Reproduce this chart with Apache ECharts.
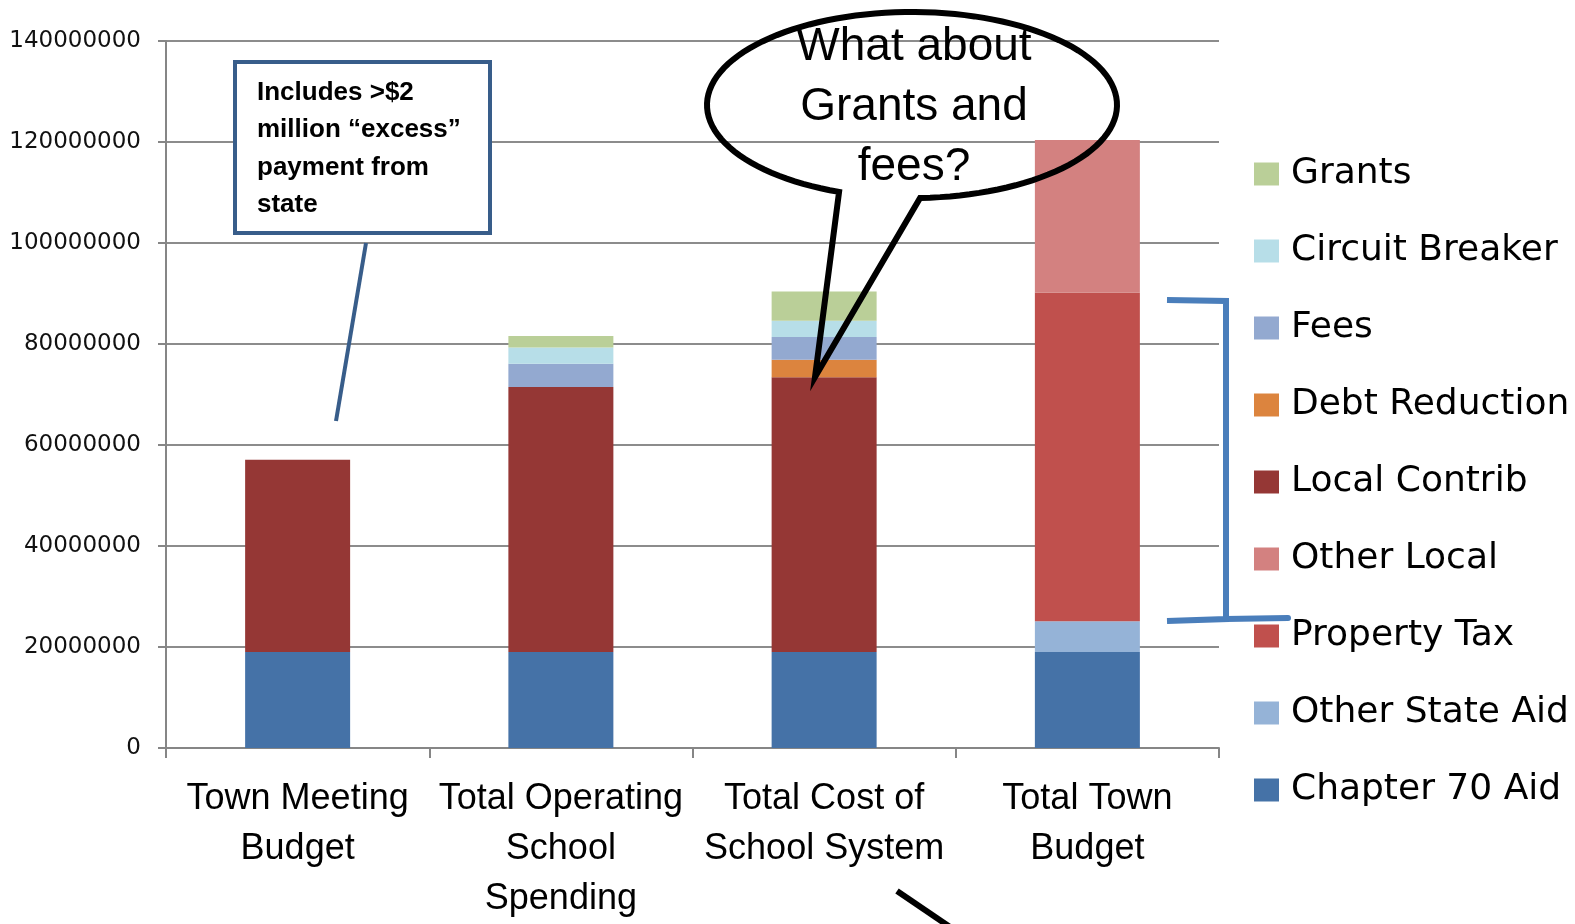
<!DOCTYPE html>
<html>
<head>
<meta charset="utf-8">
<script src="https://cdn.jsdelivr.net/npm/echarts@6/dist/echarts.min.js"></script>
<style>
html,body{margin:0;padding:0;background:#fff;overflow:hidden;}
#chart{width:1575px;height:924px;}
</style>
</head>
<body>
<div id="chart"></div>
<script>
const categories = ['Town Meeting\nBudget', 'Total Operating\nSchool\nSpending', 'Total Cost of\nSchool System', 'Total Town\nBudget'];
const yTicks = [0, 20000000, 40000000, 60000000, 80000000, 100000000, 120000000, 140000000];

const chapter70Aid    = [19000000, 19000000, 19000000, 19000000];
const otherStateAid   = [0, 0, 0, 6100000];
const propertyTax     = [0, 0, 0, 65100000];
const otherLocal      = [0, 0, 0, 30200000];
const localContrib    = [38100000, 52500000, 54400000, 0];
const debtReduction   = [0, 0, 3500000, 0];
const fees            = [0, 4600000, 4500000, 0];
const circuitBreaker  = [0, 3200000, 3200000, 0];
const grants          = [0, 2300000, 5800000, 0];

const seriesDefs = [
  ['Chapter 70 Aid', chapter70Aid, '#4572A7'],
  ['Other State Aid', otherStateAid, '#95B3D7'],
  ['Property Tax', propertyTax, '#C0504D'],
  ['Other Local', otherLocal, '#D38180'],
  ['Local Contrib', localContrib, '#953735'],
  ['Debt Reduction', debtReduction, '#DC843E'],
  ['Fees', fees, '#93A9D0'],
  ['Circuit Breaker', circuitBreaker, '#B7DEE8'],
  ['Grants', grants, '#BACF98']
];

const chart = echarts.init(document.getElementById('chart'));

// speech bubble outline (annotation graphic)
const bcx = 912, bcy = 105, brx = 205, bry = 93;
const bubblePts = [];
const t0 = Math.atan2((197 - bcy) / bry, (920 - bcx) / brx);
const t1 = Math.atan2((192 - bcy) / bry, (839 - bcx) / brx) - 2 * Math.PI;
const N = 120;
for (let i = 0; i <= N; i++) {
  const t = t0 + (t1 - t0) * i / N;
  bubblePts.push([bcx + brx * Math.cos(t), bcy + bry * Math.sin(t)]);
}
bubblePts.push([815, 377]);

const option = {
  animation: false,
  backgroundColor: '#fff',
  grid: { left: 166, right: 356, top: 41, bottom: 169, containLabel: false },
  legend: {
    orient: 'vertical',
    left: 1249,
    top: 149,
    icon: 'rect',
    itemWidth: 25,
    itemHeight: 23,
    itemGap: 37,
    textStyle: { fontFamily: 'DejaVu Sans', fontSize: 36, color: '#000', lineHeight: 40, padding: [0, 0, 0, 7] },
    data: seriesDefs.map(d => d[0]).reverse()
  },
  xAxis: {
    type: 'category',
    data: categories,
    axisLine: { lineStyle: { color: '#868686', width: 2 } },
    axisTick: { show: true, length: 10, lineStyle: { color: '#868686', width: 2 } },
    axisLabel: { fontFamily: 'Liberation Sans', fontSize: 36, lineHeight: 50, color: '#000', margin: 26, interval: 0 }
  },
  yAxis: {
    type: 'value',
    min: 0,
    max: 140000000,
    interval: 20000000,
    axisLine: { show: true, lineStyle: { color: '#868686', width: 2 } },
    axisTick: { show: true, length: 8, lineStyle: { color: '#868686', width: 2 } },
    splitLine: { lineStyle: { color: '#8C8C8C', width: 2 } },
    axisLabel: {
      fontFamily: 'DejaVu Sans', fontSize: 23, color: '#111', margin: 25,
      formatter: v => yTicks.indexOf(v) >= 0 ? String(v) : ''
    }
  },
  series: seriesDefs.map(d => ({
    name: d[0],
    type: 'bar',
    stack: 'total',
    barWidth: 105,
    data: d[1],
    itemStyle: { color: d[2] },
    emphasis: { disabled: true }
  })),
  graphic: [
    // text box annotation
    { type: 'line', z: 100, shape: { x1: 366, y1: 243, x2: 336, y2: 421 }, style: { stroke: '#385D8A', lineWidth: 4 } },
    { type: 'rect', z: 100, shape: { x: 235, y: 62, width: 255, height: 171 }, style: { fill: '#fff', stroke: '#385D8A', lineWidth: 4 } },
    { type: 'text', z: 101, x: 257, y: 74, style: { text: 'Includes >$2\nmillion \u201cexcess\u201d\npayment from\nstate', fontFamily: 'Liberation Sans', fontWeight: 'bold', fontSize: 26, lineHeight: 37.5, fill: '#000' } },
    // speech bubble
    { type: 'polygon', z: 100, shape: { points: bubblePts }, style: { fill: null, stroke: '#000', lineWidth: 6, lineJoin: 'miter' } },
    { type: 'text', z: 101, x: 914, y: 17, style: { text: 'What about\nGrants and\nfees?', fontFamily: 'Liberation Sans', fontSize: 46, lineHeight: 60, fill: '#000', align: 'center' } },
    // bracket
    { type: 'polyline', z: 100, shape: { points: [[1167, 300], [1226, 301], [1226, 619], [1167, 621]] }, style: { stroke: '#4A7EBB', lineWidth: 6, fill: null } },
    { type: 'line', z: 100, shape: { x1: 1226, y1: 619, x2: 1288, y2: 618 }, style: { stroke: '#4A7EBB', lineWidth: 6, lineCap: 'round' } },
    // bottom line
    { type: 'line', z: 100, shape: { x1: 897, y1: 891, x2: 950, y2: 927 }, style: { stroke: '#000', lineWidth: 6 } }
  ]
};
chart.setOption(option);
</script>
</body>
</html>
